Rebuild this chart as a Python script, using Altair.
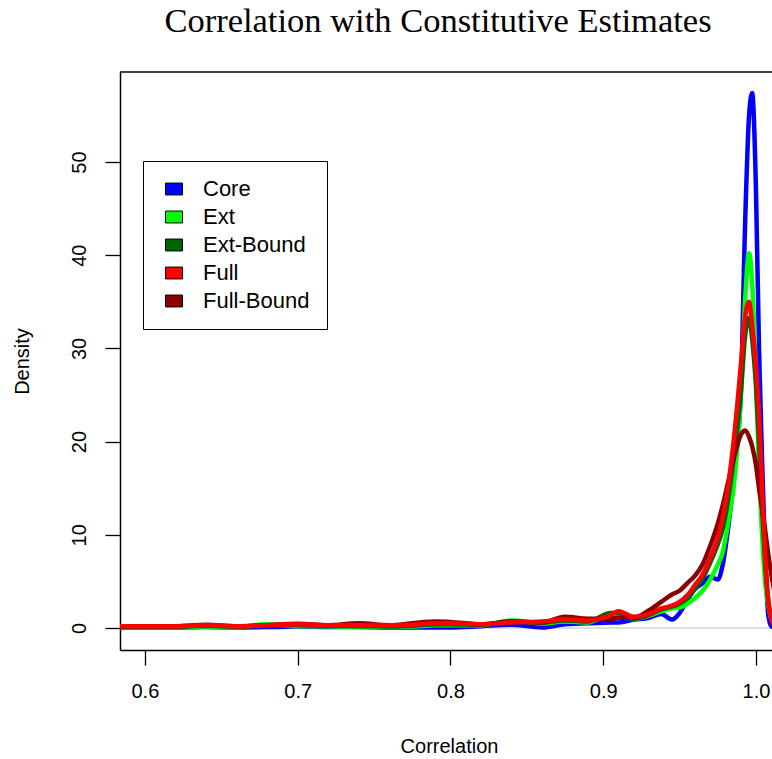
import altair as alt
import pandas as pd

# ---- data ----
x_vals = [0.58, 0.60, 0.62, 0.64, 0.66, 0.68, 0.70, 0.72, 0.74, 0.76,
          0.78, 0.79, 0.80, 0.82, 0.84, 0.86, 0.875, 0.89, 0.905, 0.91,
          0.92, 0.93, 0.938, 0.945, 0.95, 0.955, 0.96, 0.965, 0.97, 0.975,
          0.978, 0.982, 0.986, 0.99, 0.993, 0.9955, 0.9975, 1.000, 1.002, 1.004,
          1.006, 1.008, 1.010, 1.012]

core = [0.05, 0.05, 0.05, 0.1, 0.05, 0.1, 0.15, 0.1, 0.1, 0.05,
        0.05, 0.05, 0.05, 0.2, 0.35, 0.05, 0.4, 0.5, 0.6, 0.6,
        0.9, 1.1, 1.5, 0.9, 1.6, 3.0, 4.2, 4.8, 5.5, 5.2,
        6.6, 11.0, 17.0, 25.0, 44.0, 55.0, 57.4, 47.0, 30.0, 18.0,
        8.0, 1.5, 0.2, 0.05]

ext = [0.1, 0.1, 0.1, 0.15, 0.1, 0.4, 0.2, 0.2, 0.1, 0.15,
       0.2, 0.3, 0.3, 0.3, 0.8, 0.5, 0.7, 0.6, 1.5, 1.4,
       1.0, 1.3, 1.8, 2.1, 2.2, 2.6, 3.2, 4.0, 5.2, 6.8,
       8.0, 11.5, 16.0, 24.5, 35.5, 40.2, 37.0, 27.0, 17.0, 10.0,
       5.0, 2.5, 1.0, 0.5]

ext_bound = [0.15, 0.15, 0.15, 0.25, 0.15, 0.3, 0.3, 0.25, 0.2, 0.2,
             0.3, 0.4, 0.4, 0.35, 0.7, 0.6, 0.8, 0.7, 1.6, 1.6,
             1.0, 1.4, 2.0, 2.3, 2.6, 3.2, 4.2, 5.3, 7.0, 9.0,
             10.5, 14.0, 19.0, 25.0, 31.5, 33.3, 31.0, 26.0, 20.0, 13.0,
             7.0, 3.0, 1.2, 0.5]

full = [0.2, 0.2, 0.2, 0.3, 0.2, 0.3, 0.4, 0.3, 0.3, 0.3,
        0.4, 0.5, 0.5, 0.4, 0.6, 0.7, 0.9, 0.8, 1.4, 1.8,
        1.2, 1.5, 2.1, 2.4, 2.8, 3.5, 4.6, 5.7, 7.5, 9.7,
        11.6, 15.5, 21.0, 28.0, 33.5, 35.0, 32.5, 28.0, 23.0, 15.0,
        8.0, 3.0, 1.0, 0.3]

full_bound = [0.2, 0.2, 0.2, 0.35, 0.2, 0.3, 0.45, 0.3, 0.5, 0.3,
              0.6, 0.7, 0.65, 0.4, 0.7, 0.6, 1.2, 1.0, 1.0, 1.1,
              1.1, 1.9, 2.8, 3.6, 4.0, 4.8, 5.6, 6.8, 8.8, 11.2,
              13.0, 15.8, 18.5, 20.7, 21.2, 20.5, 19.5, 17.5, 15.0, 12.8,
              10.5, 8.0, 5.8, 4.0]

series_names = ["Core", "Ext", "Ext-Bound", "Full", "Full-Bound"]
series_colors = ["#0000ff", "#00ff00", "#006400", "#ff0000", "#8b0000"]
draw_order = ["Core", "Ext", "Ext-Bound", "Full-Bound", "Full"]
x_ticks = [0.6, 0.7, 0.8, 0.9, 1.0]
y_ticks = [0, 10, 20, 30, 40, 50]
title_text = "Correlation with Constitutive Estimates"

rows = []
for name, vals in zip(series_names, [core, ext, ext_bound, full, full_bound]):
    for xv, yv in zip(x_vals, vals):
        rows.append({"series": name, "corr": xv, "density": yv})
df = pd.DataFrame(rows)
color_of = dict(zip(series_names, series_colors))

W, H = 652, 578
SANS = "Liberation Sans"

xscale = alt.Scale(domain=[0.5837, 1.0105], nice=False, zero=False)
yscale = alt.Scale(domain=[-2.36, 59.66], nice=False, zero=False)
color_scale = alt.Scale(domain=series_names, range=series_colors)

x_axis = alt.Axis(values=x_ticks, format=".1f", title="Correlation", grid=False,
                  tickSize=15, labelPadding=16, labelFontSize=20, labelFont=SANS,
                  labelColor="black", titleFont=SANS, titleFontSize=20,
                  titleFontWeight="normal", titleColor="black",
                  titleX=329, titleY=96, titleBaseline="middle",
                  labelFlush=False, domainColor="black", domainWidth=1.5,
                  tickColor="black", tickWidth=1.3)
y_axis = alt.Axis(values=y_ticks, format="d", title="Density", grid=False,
                  tickSize=15, labelPadding=16, labelFontSize=20, labelFont=SANS,
                  labelColor="black", titleFont=SANS, titleFontSize=20,
                  titleFontWeight="normal", titleColor="black",
                  labelAngle=-90, labelAlign="center", labelBaseline="bottom",
                  titleAngle=-90, titleX=-98, titleY=289, titleBaseline="middle",
                  domainColor="black", domainWidth=1.5,
                  tickColor="black", tickWidth=1.3)

x_enc = alt.X("corr:Q", scale=xscale, axis=x_axis)
y_enc = alt.Y("density:Q", scale=yscale, axis=y_axis)

zero_df = pd.DataFrame({"density": [0.0]})
zero_line = alt.Chart(zero_df).mark_rule(color="#bebebe", strokeWidth=1).encode(
    y=alt.Y("density:Q", scale=yscale, axis=y_axis)
)

line_layers = []
for name in draw_order:
    line_layers.append(
        alt.Chart(df).transform_filter(alt.datum.series == name)
        .mark_line(strokeWidth=4.5, interpolate="monotone", clip=True,
                   strokeCap="round", strokeJoin="round", color=color_of[name])
        .encode(x=x_enc, y=y_enc)
    )

# invisible zero-size squares that only carry the legend
legend_layer = (
    alt.Chart(df)
    .mark_square(filled=True, opacity=1, size=0, stroke="black", strokeWidth=0)
    .encode(
        x=x_enc, y=y_enc,
        fill=alt.Fill("series:N", scale=color_scale,
                      legend=alt.Legend(
                          orient="none", legendX=23, legendY=89, title=None,
                          symbolType="M-1,-0.7H1V0.7H-1Z", symbolSize=289,
                          symbolStrokeColor="black", symbolStrokeWidth=1,
                          symbolOpacity=1,
                          labelFont=SANS, labelFontSize=22, labelColor="black",
                          labelOffset=18, rowPadding=6, padding=17,
                          symbolOffset=3, strokeColor="black", fillColor="white",
                          labelLimit=300))
    )
)

frame_df = pd.DataFrame({"k": [0]})
top_rule = alt.Chart(frame_df).mark_rule(color="black", strokeWidth=1.5).encode(
    x=alt.value(0), x2=alt.value(W), y=alt.value(0)
)

title_df = pd.DataFrame({"t": [title_text]})
title_mark = alt.Chart(title_df).mark_text(
    font="Liberation Serif", fontSize=34.5, color="black",
    align="center", baseline="alphabetic"
).encode(text="t:N", x=alt.value(318), y=alt.value(-40))

chart = alt.layer(zero_line, *line_layers, legend_layer, top_rule, title_mark).properties(
    width=W, height=H,
    padding={"left": 120, "top": 72, "right": 0, "bottom": 109},
    autosize=alt.AutoSizeParams(type="none"),
    background="white",
).configure_view(stroke=None)

chart.save("out.html", embed_options={"renderer": "svg", "actions": False})
